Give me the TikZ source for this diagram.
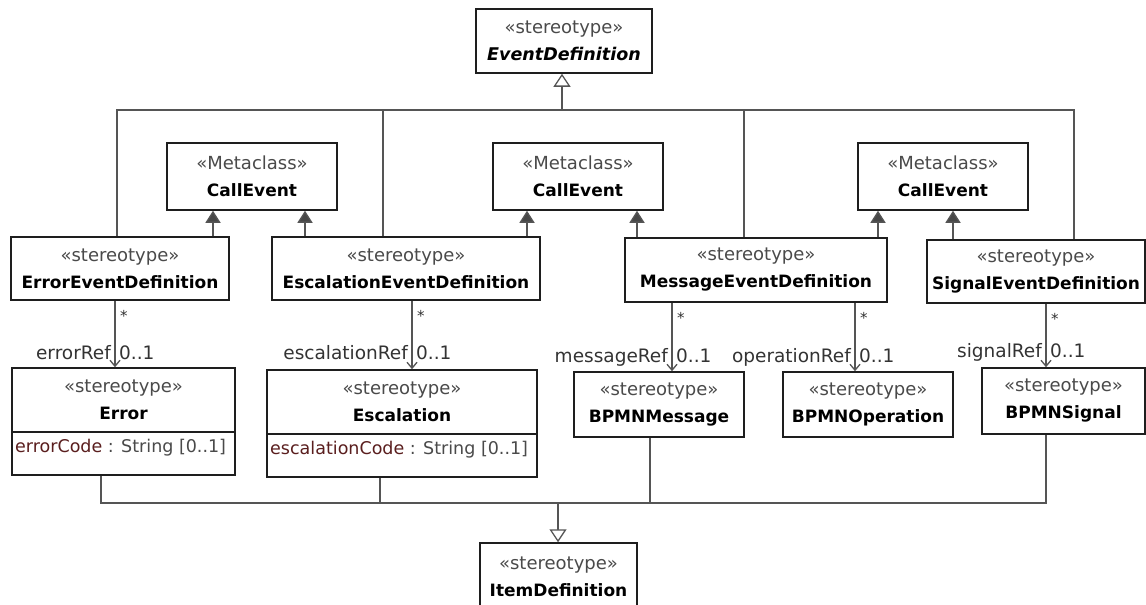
\documentclass[tikz,border=0pt]{standalone}
\usepackage{fontspec}
\setmainfont{DejaVu Sans}
\usetikzlibrary{arrows.meta}

\definecolor{linegray}{HTML}{555555}
\definecolor{framecol}{HTML}{1E1E1E}
\definecolor{stereo}{HTML}{4A4A4A}
\definecolor{attrname}{HTML}{5A1E1E}
\definecolor{tipfill}{HTML}{474747}

% two-line class heading: stereotype over bold name
\newcommand\umlhead[2]{{\color{stereo}«#1»}\\{\fontsize{17}{27}\selectfont\bfseries #2}}

\tikzset{
  box/.style={draw=framecol, line width=1.5pt, fill=white, inner sep=0pt,
              align=center, font=\fontsize{18}{27}\selectfont},
  head/.style={align=center, font=\fontsize{18}{27}\selectfont, inner sep=0pt},
  conn/.style={draw=linegray, line width=1.3pt},
  gen/.style={conn, -{Triangle[open, length=13pt, width=17pt, fill=white]}},
  ext/.style={conn, -{Triangle[length=12pt, width=15pt, fill=tipfill]}},
  assoc/.style={conn, -{Straight Barb[length=6pt, width=10pt]}},
  lbl/.style={font=\fontsize{18.5}{20}\selectfont, text=black!80, inner sep=0pt},
  mult/.style={font=\fontsize{15}{16}\selectfont, text=black!80, inner sep=0pt},
  attr/.style={font=\fontsize{17.5}{20}\selectfont, text=stereo, inner sep=0pt},
  sep/.style={draw=framecol, line width=1.3pt},
}

\begin{document}
\begin{tikzpicture}[x=1pt, y=-1pt]
\clip (0,0) rectangle (1146,605);
\fill[white] (0,0) rectangle (1146,605);

% top-level stereotype
\node[box, minimum width=176, minimum height=64] (evdef) at (564,41)
  {{\color{stereo}«stereotype»}\\{\fontsize{17.5}{27}\selectfont\bfseries\itshape EventDefinition}};

% metaclasses
\node[box, minimum width=170, minimum height=67] (ce1) at (252,176.5) {\umlhead{Metaclass}{CallEvent}};
\node[box, minimum width=170, minimum height=67] (ce2) at (578,176.5) {\umlhead{Metaclass}{CallEvent}};
\node[box, minimum width=170, minimum height=67] (ce3) at (943,176.5) {\umlhead{Metaclass}{CallEvent}};

% event definitions
\node[box, minimum width=218, minimum height=63] (errdef) at (120,268.5) {\umlhead{stereotype}{ErrorEventDefinition}};
\node[box, minimum width=268, minimum height=63] (escdef) at (406,268.5) {\umlhead{stereotype}{EscalationEventDefinition}};
\node[box, minimum width=262, minimum height=64] (msgdef) at (756,270) {\umlhead{stereotype}{MessageEventDefinition}};
\node[box, minimum width=218, minimum height=63] (sigdef) at (1036,271.5) {\umlhead{stereotype}{SignalEventDefinition}};

% referenced stereotypes
\node[box, minimum width=223, minimum height=107] (err) at (123.5,421.5) {};
\node[head] (errhd) at (123.5,400) {\umlhead{stereotype}{Error}};
\coordinate (sy1) at (0,432);
\draw[sep] (err.west |- sy1) -- (err.east |- sy1);
\node[attr, anchor=west] (erratt) at (15,448) {\textcolor{attrname}{errorCode} : String [0..1]};

\node[box, minimum width=270, minimum height=107] (esc) at (402,423.5) {};
\node[head] (eschd) at (402,402) {\umlhead{stereotype}{Escalation}};
\coordinate (sy2) at (0,434);
\draw[sep] (esc.west |- sy2) -- (esc.east |- sy2);
\node[attr, anchor=west] (escatt) at (270,450) {\textcolor{attrname}{escalationCode} : String [0..1]};

\node[box, minimum width=170, minimum height=65] (msg) at (659,404.5) {\umlhead{stereotype}{BPMNMessage}};
\node[box, minimum width=170, minimum height=65] (op) at (868,404.5) {\umlhead{stereotype}{BPMNOperation}};
\node[box, minimum width=163, minimum height=66] (sig) at (1063.5,401) {\umlhead{stereotype}{BPMNSignal}};

\node[box, minimum width=157, minimum height=67] (item) at (558.5,576.5) {\umlhead{stereotype}{ItemDefinition}};

% generalization tree to EventDefinition
\coordinate (b1) at (117,110);
\coordinate (b2) at (383,110);
\coordinate (b3) at (744,110);
\coordinate (b4) at (1074,110);
\coordinate (bs) at (562,110);
\draw[conn] (b1 |- errdef.north) -- (b1) -- (b4) -- (b4 |- sigdef.north);
\draw[conn] (b2) -- (b2 |- escdef.north);
\draw[conn] (b3) -- (b3 |- msgdef.north);
\draw[gen] (bs) -- (bs |- evdef.south);

% extensions of CallEvent
\coordinate (e1) at (213,0);
\coordinate (e2) at (305,0);
\coordinate (e3) at (527,0);
\coordinate (e4) at (637,0);
\coordinate (e5) at (878,0);
\coordinate (e6) at (953,0);
\draw[ext] (e1 |- errdef.north) -- (e1 |- ce1.south);
\draw[ext] (e2 |- escdef.north) -- (e2 |- ce1.south);
\draw[ext] (e3 |- escdef.north) -- (e3 |- ce2.south);
\draw[ext] (e4 |- msgdef.north) -- (e4 |- ce2.south);
\draw[ext] (e5 |- msgdef.north) -- (e5 |- ce3.south);
\draw[ext] (e6 |- sigdef.north) -- (e6 |- ce3.south);

% directed associations
\coordinate (a1) at (115,0);
\coordinate (a2) at (412,0);
\coordinate (a3) at (672,0);
\coordinate (a4) at (855,0);
\coordinate (a5) at (1046,0);
\draw[assoc] (a1 |- errdef.south) -- (a1 |- err.north);
\draw[assoc] (a2 |- escdef.south) -- (a2 |- esc.north);
\draw[assoc] (a3 |- msgdef.south) -- (a3 |- msg.north);
\draw[assoc] (a4 |- msgdef.south) -- (a4 |- op.north);
\draw[assoc] (a5 |- sigdef.south) -- (a5 |- sig.north);

% association end labels
\node[mult, anchor=base west] (s1) at (120,321) {*};
\node[lbl, anchor=base east] (r1) at (111,359) {errorRef};
\node[lbl, anchor=base west] (m1) at (119,359) {0..1};
\node[mult, anchor=base west] (s2) at (417,321) {*};
\node[lbl, anchor=base east] (r2) at (408,359) {escalationRef};
\node[lbl, anchor=base west] (m2) at (416,359) {0..1};
\node[mult, anchor=base west] (s3) at (677,323) {*};
\node[lbl, anchor=base east] (r3) at (668,362) {messageRef};
\node[lbl, anchor=base west] (m3) at (676,362) {0..1};
\node[mult, anchor=base west] (s4) at (860,323) {*};
\node[lbl, anchor=base east] (r4) at (851,362) {operationRef};
\node[lbl, anchor=base west] (m4) at (859,362) {0..1};
\node[mult, anchor=base west] (s5) at (1051,324) {*};
\node[lbl, anchor=base east] (r5) at (1042,357) {signalRef};
\node[lbl, anchor=base west] (m5) at (1050,357) {0..1};

% generalization tree to ItemDefinition
\coordinate (d1) at (101,503);
\coordinate (d2) at (380,503);
\coordinate (d3) at (650,503);
\coordinate (d4) at (1046,503);
\coordinate (ds) at (558,503);
\draw[conn] (d1 |- err.south) -- (d1) -- (d4) -- (d4 |- sig.south);
\draw[conn] (d2 |- esc.south) -- (d2);
\draw[conn] (d3 |- msg.south) -- (d3);
\draw[gen] (ds) -- (ds |- item.north);
\end{tikzpicture}
\end{document}
